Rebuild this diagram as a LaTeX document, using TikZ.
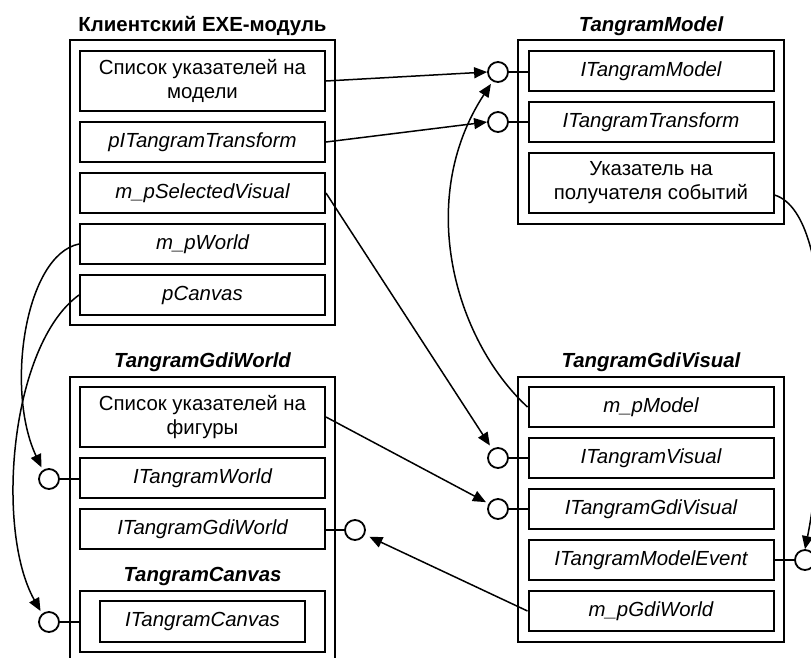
\documentclass[tikz,border=0pt]{standalone}
\usepackage{fontspec}
\setmainfont{Liberation Sans}
\usetikzlibrary{arrows.meta}
\newcommand\fsz{\fontsize{20.4}{24}\selectfont}
\tikzset{
  item/.style={draw, line width=2pt, minimum width=245pt, minimum height=40pt, inner sep=0pt, align=center, font=\fsz},
  itemtall/.style={item, minimum height=60pt},
  frame/.style={draw, line width=2pt, inner sep=0pt},
  ttl/.style={font=\fsz\bfseries\itshape, anchor=base, inner sep=0pt},
  port/.style={circle, draw, line width=1.8pt, minimum size=20pt, inner sep=0pt, fill=white},
  stub/.style={line width=1.8pt},
  conn/.style={line width=1.5pt, -{Triangle[length=13pt,width=11pt]}},
}
\begin{document}
\begin{tikzpicture}[x=1pt,y=-1pt]
\useasboundingbox (0,0) rectangle (811,657);
\clip (0,0) rectangle (811,657);
% ---------- Client EXE module
\node[ttl, font=\fsz\bfseries] (tL) at (202.5,31) {Клиентский EXE-модуль};
\node[frame, minimum width=265pt, minimum height=285pt] (oL) at (202.5,182.5) {};
\node[itemtall] (L1) at (202.5,81) {Список указателей на\\модели};
\node[item] (L2) at (202.5,142) {\itshape pITangramTransform};
\node[item] (L3) at (202.5,193) {\itshape m\_pSelectedVisual};
\node[item] (L4) at (202.5,244) {\itshape m\_pWorld};
\node[item] (L5) at (202.5,295) {\itshape pCanvas};
% ---------- TangramModel
\node[ttl] (tR) at (651,31) {TangramModel};
\node[frame, minimum width=266pt, minimum height=184pt] (oR) at (651,132) {};
\node[item] (R1) at (651,71) {\itshape ITangramModel};
\node[item] (R2) at (651,122) {\itshape ITangramTransform};
\node[itemtall] (R3) at (651,183) {Указатель на\\получателя событий};
% ---------- TangramGdiWorld
\node[ttl] (tW) at (202.5,367) {TangramGdiWorld};
\draw[line width=2pt] (70,670) -- (70,377) -- (335,377) -- (335,670);
\node[itemtall] (W1) at (202.5,417) {Список указателей на\\фигуры};
\node[item] (W2) at (202.5,478) {\itshape ITangramWorld};
\node[item] (W3) at (202.5,529) {\itshape ITangramGdiWorld};
\node[ttl] (tC) at (202.5,581) {TangramCanvas};
\node[frame, minimum width=245pt, minimum height=61pt] (oC) at (202.5,621.5) {};
\node[item, minimum width=205pt, minimum height=41pt] (C1) at (202.5,621.5) {\itshape ITangramCanvas};
% ---------- TangramGdiVisual
\node[ttl] (tV) at (651,367) {TangramGdiVisual};
\node[frame, minimum width=266pt, minimum height=265pt] (oV) at (651,509.5) {};
\node[item] (V1) at (651,407) {\itshape m\_pModel};
\node[item] (V2) at (651,458) {\itshape ITangramVisual};
\node[item] (V3) at (651,509) {\itshape ITangramGdiVisual};
\node[item] (V4) at (651,560) {\itshape ITangramModelEvent};
\node[item] (V5) at (651,611) {\itshape m\_pGdiWorld};
% ---------- ports
\node[port] (pR1) at (498,72) {};
\node[port] (pR2) at (498,122) {};
\node[port] (pW2) at (49,479) {};
\node[port] (pW3) at (355,530) {};
\node[port] (pC) at (49,622) {};
\node[port] (pV2) at (498,458) {};
\node[port] (pV3) at (498,509) {};
\node[port] (pV4) at (805,560) {};
\draw[stub] (pR1.east) -- (pR1.east -| R1.west);
\draw[stub] (pR2.east) -- (pR2.east -| R2.west);
\draw[stub] (pW2.east) -- (pW2.east -| W2.west);
\draw[stub] (pW3.west) -- (pW3.west -| W3.east);
\draw[stub] (pC.east) -- (pC.east -| oC.west);
\draw[stub] (pV2.east) -- (pV2.east -| V2.west);
\draw[stub] (pV3.east) -- (pV3.east -| V3.west);
\draw[stub] (pV4.west) -- (pV4.west -| V4.east);
% ---------- connectors
\draw[conn] (L1.east) -- (pR1.west);
\draw[conn] (L2.east) -- (pR2.west);
\draw[conn, shorten >=4pt] (L3.east) -- (pV2);
\draw[conn, shorten >=3pt] (L4.west) .. controls (25,255) and (5,390) .. (pW2.125);
\draw[conn, shorten >=3pt] (L5.west) .. controls (10,345) and (-5,530) .. (pC.130);
\draw[conn, shorten >=3pt] (W1.east) -- (pV3.150);
\draw[conn, shorten >=3pt] (V1.west) .. controls (455,340) and (415,200) .. (pR1.240);
\draw[conn, shorten >=5pt] (V5.west) -- (pW3);
\draw[conn] ([yshift=-12pt]R3.east) .. controls (840,215) and (825,450) .. (pV4.north);
\end{tikzpicture}
\end{document}
